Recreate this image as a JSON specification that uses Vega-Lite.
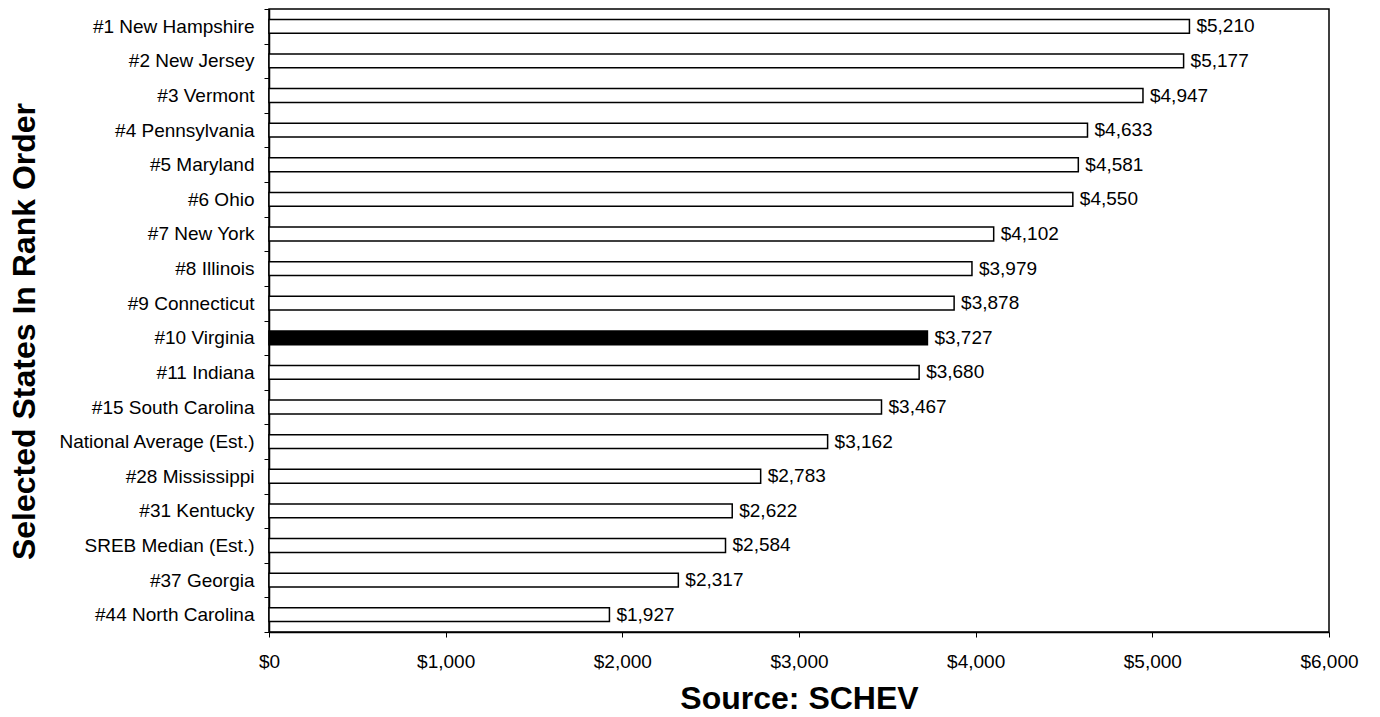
{
  "$schema": "https://vega.github.io/schema/vega-lite/v6.json",
  "autosize": "none",
  "width": 1060,
  "height": 623,
  "padding": {"left": 269, "top": 9, "right": 51, "bottom": 85},
  "background": "white",
  "config": {
    "font": "Liberation Sans",
    "view": {"stroke": "black", "strokeWidth": 1.5},
    "axis": {
      "domainColor": "black",
      "domainWidth": 1.5,
      "tickColor": "black",
      "tickWidth": 1,
      "tickSize": 5,
      "labelColor": "black",
      "labelFont": "Liberation Sans",
      "labelFontSize": 19,
      "labelLimit": 400,
      "titleColor": "black",
      "titleFont": "Liberation Sans",
      "titleFontWeight": "bold",
      "titleFontSize": 32,
      "titleLimit": 1000,
      "grid": false
    }
  },
  "data": {
    "values": [
      {"state": "#1 New Hampshire", "amount": 5210},
      {"state": "#2 New Jersey", "amount": 5177},
      {"state": "#3 Vermont", "amount": 4947},
      {"state": "#4 Pennsylvania", "amount": 4633},
      {"state": "#5 Maryland", "amount": 4581},
      {"state": "#6 Ohio", "amount": 4550},
      {"state": "#7 New York", "amount": 4102},
      {"state": "#8 Illinois", "amount": 3979},
      {"state": "#9 Connecticut", "amount": 3878},
      {"state": "#10 Virginia", "amount": 3727},
      {"state": "#11 Indiana", "amount": 3680},
      {"state": "#15 South Carolina", "amount": 3467},
      {"state": "National Average (Est.)", "amount": 3162},
      {"state": "#28 Mississippi", "amount": 2783},
      {"state": "#31 Kentucky", "amount": 2622},
      {"state": "SREB Median (Est.)", "amount": 2584},
      {"state": "#37 Georgia", "amount": 2317},
      {"state": "#44 North Carolina", "amount": 1927}
    ]
  },
  "encoding": {
    "y": {
      "field": "state",
      "type": "nominal",
      "sort": null,
      "scale": {"paddingInner": 0, "paddingOuter": 0},
      "axis": {
        "title": "Selected States In Rank Order",
        "tickBand": "extent",
        "labelPadding": 10,
        "titleX": -245,
        "titleY": 322,
        "titleAngle": -90,
        "titleAlign": "center",
        "titleBaseline": "middle"
      }
    },
    "x": {
      "field": "amount",
      "type": "quantitative",
      "scale": {"domain": [0, 6000], "nice": false},
      "axis": {
        "title": "Source: SCHEV",
        "values": [0, 1000, 2000, 3000, 4000, 5000, 6000],
        "format": "$,.0f",
        "labelFlush": false,
        "labelOverlap": false,
        "labelPadding": 15,
        "titleX": 530,
        "titleY": 76,
        "titleAlign": "center",
        "titleBaseline": "alphabetic"
      }
    }
  },
  "layer": [
    {
      "mark": {"type": "bar", "height": {"band": 0.4}, "stroke": "black", "strokeWidth": 1.5, "cornerRadius": 0},
      "encoding": {
        "fill": {
          "condition": {"test": "datum.state === '#10 Virginia'", "value": "black"},
          "value": "white"
        }
      }
    },
    {
      "mark": {"type": "text", "align": "left", "baseline": "middle", "dx": 7, "fontSize": 19, "font": "Liberation Sans", "color": "black"},
      "encoding": {
        "text": {"field": "amount", "type": "quantitative", "format": "$,.0f"}
      }
    }
  ]
}
